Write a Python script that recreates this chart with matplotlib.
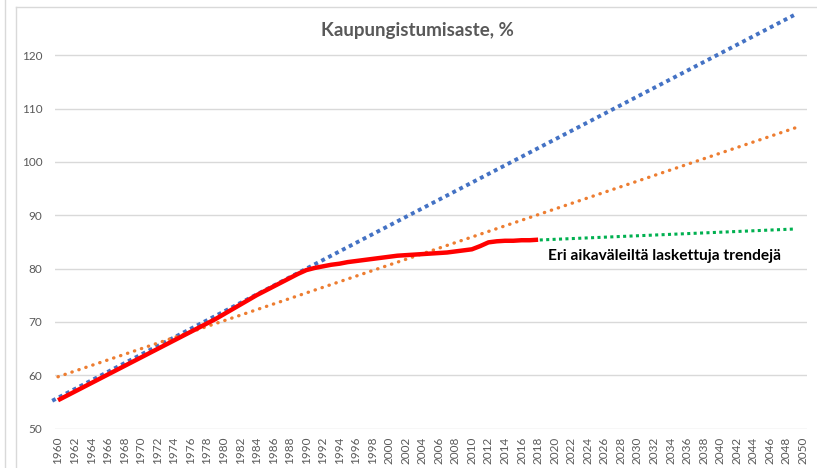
import matplotlib
matplotlib.use("Agg")
import matplotlib.pyplot as plt
from matplotlib.lines import Line2D

plt.rcParams['font.family'] = ['Lato', 'DejaVu Sans']

# Actual urbanisation rate, %
years = list(range(1960, 2019))
rate = [55.3, 56.1, 56.9, 57.7, 58.5, 59.3, 60.1, 60.9, 61.7, 62.5,
        63.3, 64.1, 64.9, 65.7, 66.5, 67.3, 68.1, 68.9, 69.7, 70.5,
        71.4, 72.3, 73.2, 74.1, 75.0, 75.8, 76.6, 77.4, 78.2, 79.0,
        79.7, 80.1, 80.4, 80.7, 80.9, 81.2, 81.4, 81.6, 81.8, 82.0,
        82.2, 82.4, 82.5, 82.6, 82.7, 82.8, 82.9, 83.0, 83.2, 83.4,
        83.6, 84.2, 84.9, 85.1, 85.2, 85.2, 85.3, 85.3, 85.4]

# Trend lines (start / end points)
blue_years = [1959.3, 2048.9]
blue_vals = [55.2, 127.5]
orange_years = [1960, 2049.5]
orange_vals = [59.7, 106.6]
green_years = [2018.2, 2048.9]
green_vals = [85.35, 87.4]

xtick_years = list(range(1960, 2051, 2))
yticks = [50, 60, 70, 80, 90, 100, 110, 120]

title = "Kaupungistumisaste, %"
note = "Eri aikaväleiltä laskettuja trendejä"

W, H = 817, 468
fig = plt.figure(figsize=(W / 100, H / 100), dpi=100)
left, right, top, bottom = 55, 807, 7, 428.5
ax = fig.add_axes([left / W, 1 - bottom / H, (right - left) / W, (bottom - top) / H])

px_per_year = (803 - 58) / 90
x0 = 1960 - (58 - left) / px_per_year
x1 = 2050 + (right - 803) / px_per_year
ax.set_xlim(x0, x1)
ax.set_ylim(50, 50 + (bottom - top) / (53.333 / 10))

grid_c = '#d9d9d9'
for y in yticks:
    ax.axhline(y, color=grid_c, lw=1.0, zorder=0)

ax.plot(blue_years, blue_vals, color='#4472c4', lw=2.8, dashes=(1, 1.0),
        dash_capstyle='butt', clip_on=False, zorder=2)
ax.plot(orange_years, orange_vals, color='#ed7d31', lw=2.4, dashes=(0.1, 2.1),
        dash_capstyle='round', clip_on=False, zorder=2)
ax.plot(green_years, green_vals, color='#00b050', lw=2.2, dashes=(1, 1.1),
        dash_capstyle='butt', clip_on=False, zorder=2)
ax.plot(years, rate, color='#ff0000', lw=3.2, solid_capstyle='butt',
        solid_joinstyle='round', zorder=3)

for s in ax.spines.values():
    s.set_visible(False)

ax.set_yticks(yticks)
ax.set_yticklabels([str(v) for v in yticks], color='#595959', fontsize=8.5)
ax.set_xticks(xtick_years)
ax.set_xticklabels([str(v) for v in xtick_years], rotation=90, color='#595959',
                   fontsize=8.5)
ax.tick_params(axis='both', length=0)
ax.tick_params(axis='y', pad=9)
ax.tick_params(axis='x', pad=6)

fig.text(417 / W, 1 - 30.5 / H, title, ha='center', va='center',
         fontsize=13.5, fontweight='bold', color='#595959')
fig.text(548 / W, 1 - 256 / H, note, ha='left', va='center',
         fontsize=11.2, fontweight='bold', color='black')

# Outer frame lines
fig.add_artist(Line2D([5 / W, 5 / W], [0, 1], color=grid_c, lw=1))
fig.add_artist(Line2D([16 / W, 16 / W], [0, 1 - 7 / H], color=grid_c, lw=1))
fig.add_artist(Line2D([16 / W, 1], [1 - 7 / H, 1 - 7 / H], color=grid_c, lw=1))

fig.savefig("out.png", dpi=100)
